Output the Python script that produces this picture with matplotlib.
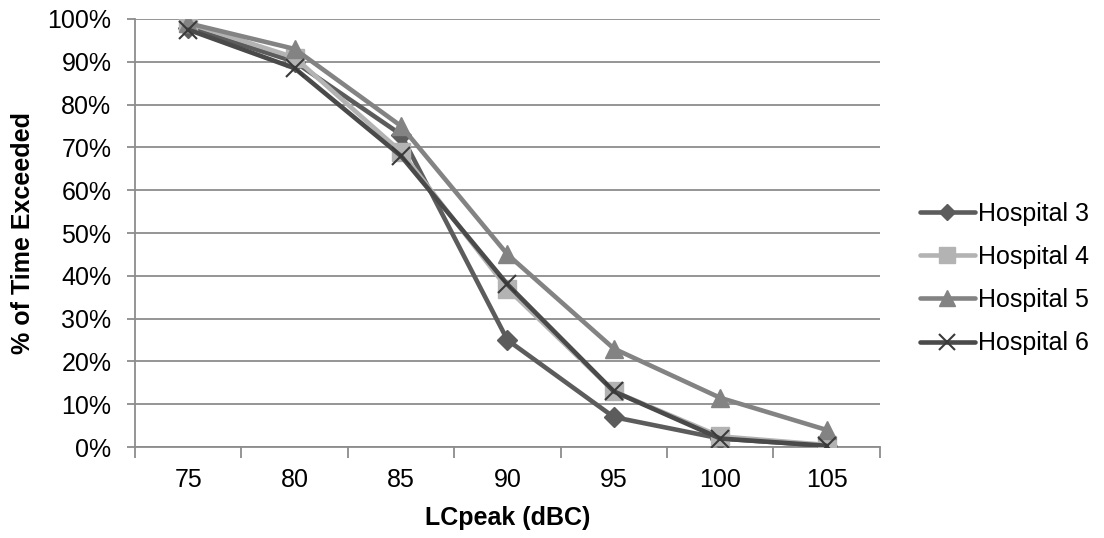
import matplotlib
matplotlib.use("Agg")
import matplotlib.pyplot as plt
import numpy as np

categories = ["75", "80", "85", "90", "95", "100", "105"]
hosp3 = [98, 90, 73, 25, 7, 2, 0.3]
hosp4 = [99, 91, 69, 37, 13, 2.5, 0.5]
hosp5 = [99, 93, 75, 45, 23, 11.5, 4]
hosp6 = [97.5, 88.5, 68, 38, 13, 2, 0.3]
series_names = ["Hospital 3", "Hospital 4", "Hospital 5", "Hospital 6"]

plt.rcParams['font.family'] = ['Liberation Sans', 'DejaVu Sans']

fig = plt.figure(figsize=(11.04, 5.38), dpi=100)
ax = fig.add_axes([0.1223, 0.169, 0.797 - 0.1223, 0.9647 - 0.169])

x = np.arange(len(categories))
styles = [
    dict(color="#5c5c5c", marker="D", ms=10, mfc="#5c5c5c", mec="#5c5c5c"),
    dict(color="#b3b3b3", marker="s", ms=13, mfc="#b3b3b3", mec="#b3b3b3"),
    dict(color="#838383", marker="^", ms=13, mfc="#838383", mec="#838383"),
    dict(color="#4a4a4a", marker="x", ms=13, mew=1.5, mec="#3a3a3a"),
]
for vals, name, st in zip([hosp3, hosp4, hosp5, hosp6], series_names, styles):
    ax.plot(x, vals, lw=3.3, label=name, solid_capstyle="round", zorder=3, **st)

FS = 18
ax.set_xlim(-0.5, len(categories) - 0.5)
ax.set_ylim(0, 100)
ax.set_yticks(np.arange(0, 101, 10))
ax.set_yticklabels([f"{v}%" for v in range(0, 101, 10)], fontsize=FS)
ax.set_xticks(x)
ax.set_xticklabels(categories, fontsize=FS)
ax.set_xticks(np.arange(-0.5, len(categories), 1), minor=True)
ax.tick_params(axis='x', which='major', length=0, pad=15)
ax.tick_params(axis='x', which='minor', length=8, color="#8c8c8c", width=1.3)
ax.tick_params(axis='y', length=6, color="#8c8c8c", width=1.3, pad=11)

ax.grid(axis='y', color="#8c8c8c", lw=1.3, zorder=0)
for s in ["top", "right"]:
    ax.spines[s].set_visible(False)
for s in ["left", "bottom"]:
    ax.spines[s].set_color("#8c8c8c")
    ax.spines[s].set_linewidth(1.3)

ax.set_xlabel("LCpeak (dBC)", fontsize=FS, fontweight="bold", labelpad=10)
ax.set_ylabel("% of Time Exceeded", fontsize=FS, fontweight="bold", labelpad=9)

leg = fig.legend(loc="center left", bbox_to_anchor=(0.833, 0.4825), frameon=False,
                 fontsize=FS, handlelength=2.2, handletextpad=0.15, labelspacing=0.77,
                 borderpad=0, borderaxespad=0, markerscale=0.85)

fig.savefig("out.png", dpi=100)
